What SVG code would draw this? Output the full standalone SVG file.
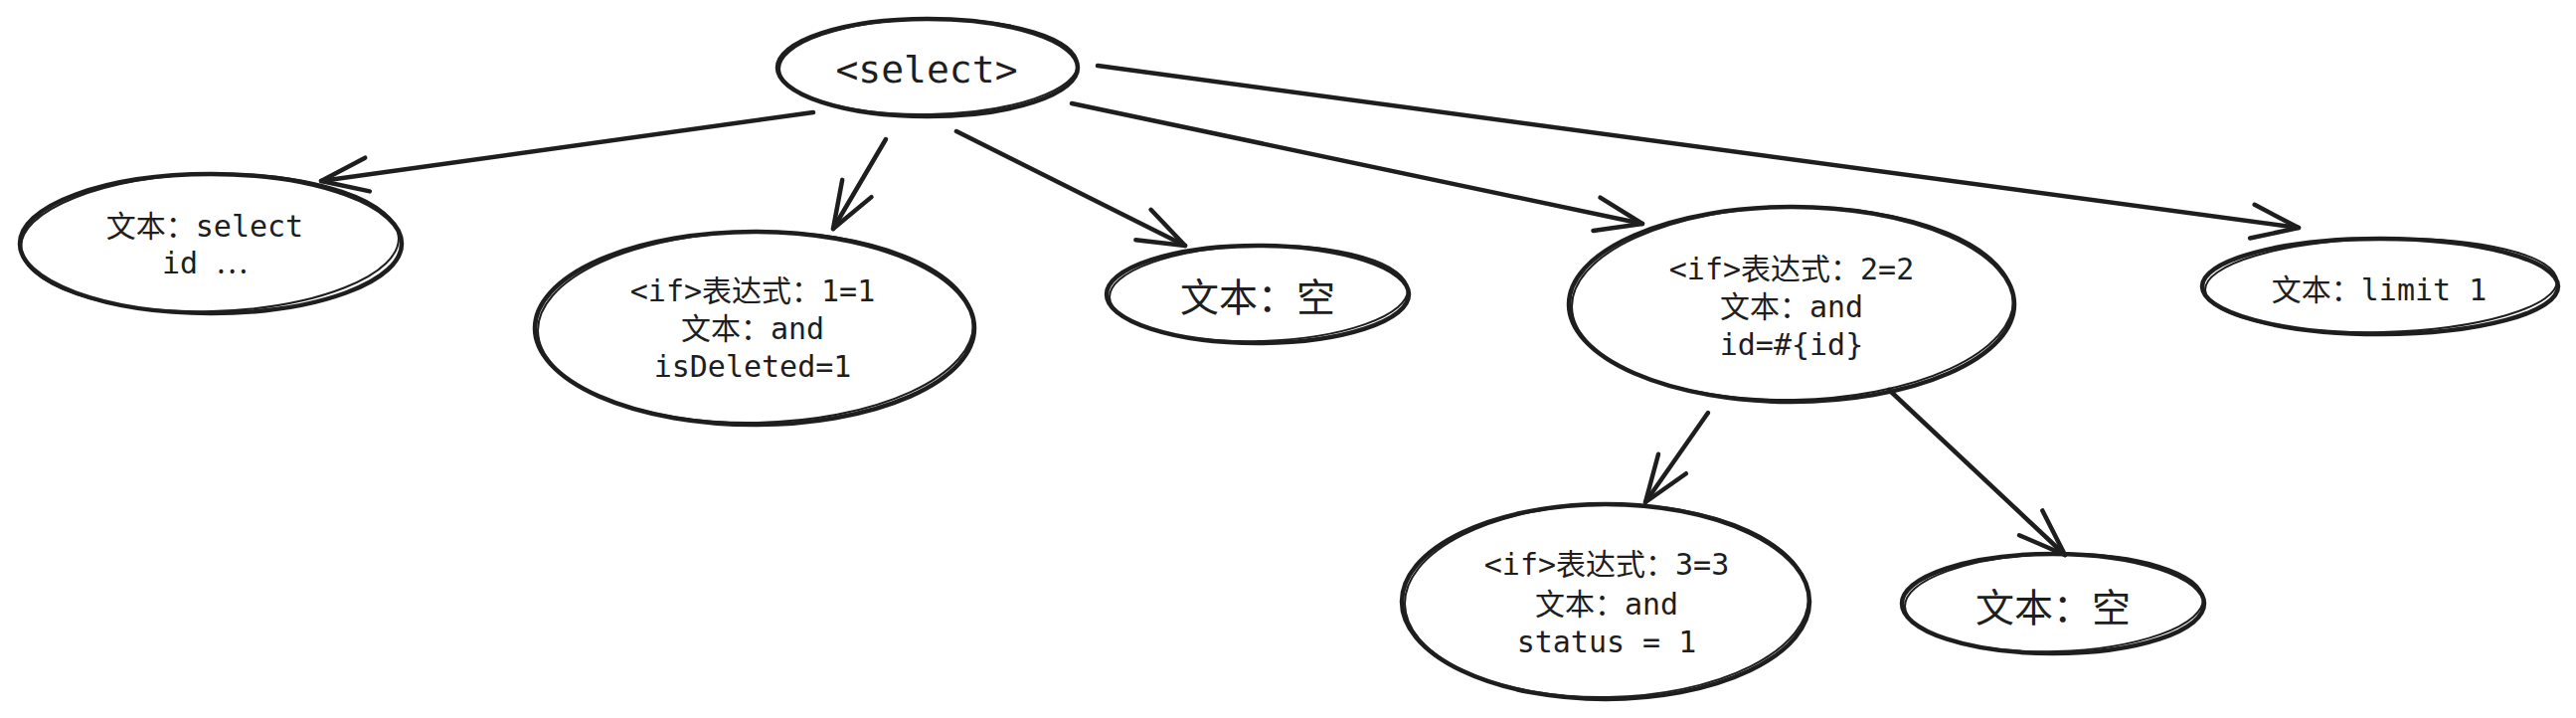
<svg xmlns="http://www.w3.org/2000/svg" width="2591" height="722" viewBox="0 0 2591 722">
<style>
.node{fill:none;stroke:#1e1e1e;stroke-width:4.5}
.node2{fill:none;stroke:#1e1e1e;stroke-width:2}
.t{font-family:"DejaVu Sans Mono","Noto Sans CJK SC",monospace;font-size:30px;fill:#1e1e1e;text-anchor:middle}
.big{font-size:39px}
.cjk{font-family:"Noto Sans CJK SC",sans-serif}
.conn{fill:none;stroke:#1e1e1e;stroke-width:4.5;stroke-linecap:round;marker-end:url(#ah)}
</style>
<defs>
<marker id="ah" markerUnits="userSpaceOnUse" markerWidth="60" markerHeight="40" viewBox="-55 -20 60 40" refX="0" refY="0" orient="auto" overflow="visible">
<path d="M-47,-17 L0,0 L-47,17" fill="none" stroke="#1e1e1e" stroke-width="4.5" stroke-linecap="round" stroke-linejoin="round"/>
</marker>
</defs>
<rect width="2591" height="722" fill="#ffffff"/>
<g id="connectors">
<path class="conn" d="M818,113 L323,182"/>
<path class="conn" d="M891,140 L838,230"/>
<path class="conn" d="M962,132 L1192,247"/>
<path class="conn" d="M1078,104 L1652,225"/>
<path class="conn" d="M1104,66 L2312,229"/>
<path class="conn" d="M1718,415 L1655,505"/>
<path class="conn" d="M1900,392 L2077,558"/>
</g>
<g id="n-select">
<ellipse class="node" cx="933" cy="68" rx="151" ry="49"/>
<ellipse class="node2" cx="934" cy="67" rx="150" ry="48" transform="rotate(-1 934 67)"/>
<text class="t" x="932" y="83" style="font-size:38px">&lt;select&gt;</text>
</g>
<g id="n-selectid">
<ellipse class="node" cx="212" cy="245" rx="192" ry="70"/>
<ellipse class="node2" cx="211" cy="244" rx="190" ry="69" transform="rotate(-1.5 211 244)"/>
<text class="t" x="206" y="238">文本：select</text>
<text class="t" x="206" y="275">id <tspan class="cjk">…</tspan></text>
</g>
<g id="n-if1">
<ellipse class="node" cx="759" cy="330" rx="221" ry="97"/>
<ellipse class="node2" cx="760" cy="329" rx="219" ry="96" transform="rotate(-1 760 329)"/>
<text class="t" x="757" y="303">&lt;if&gt;表达式：1=1</text>
<text class="t" x="757" y="341">文本：and</text>
<text class="t" x="757" y="379">isDeleted=1</text>
</g>
<g id="n-empty1">
<ellipse class="node" cx="1265" cy="296" rx="152" ry="49"/>
<ellipse class="node2" cx="1266" cy="295" rx="150" ry="48" transform="rotate(-1.5 1266 295)"/>
<text class="t big" x="1265" y="313">文本：空</text>
</g>
<g id="n-if2">
<ellipse class="node" cx="1802" cy="306" rx="224" ry="98"/>
<ellipse class="node2" cx="1803" cy="305" rx="222" ry="97" transform="rotate(-1 1803 305)"/>
<text class="t" x="1802" y="281">&lt;if&gt;表达式：2=2</text>
<text class="t" x="1802" y="319">文本：and</text>
<text class="t" x="1802" y="357">id=#{id}</text>
</g>
<g id="n-limit">
<ellipse class="node" cx="2394" cy="288" rx="179" ry="48"/>
<ellipse class="node2" cx="2395" cy="287" rx="177" ry="47" transform="rotate(-1.5 2395 287)"/>
<text class="t" x="2393" y="302">文本：limit 1</text>
</g>
<g id="n-if3">
<ellipse class="node" cx="1615" cy="605" rx="205" ry="98"/>
<ellipse class="node2" cx="1616" cy="604" rx="203" ry="97" transform="rotate(-1 1616 604)"/>
<text class="t" x="1616" y="578">&lt;if&gt;表达式：3=3</text>
<text class="t" x="1616" y="618">文本：and</text>
<text class="t" x="1616" y="656">status = 1</text>
</g>
<g id="n-empty2">
<ellipse class="node" cx="2065" cy="607" rx="152" ry="50"/>
<ellipse class="node2" cx="2066" cy="606" rx="150" ry="49" transform="rotate(-1.5 2066 606)"/>
<text class="t big" x="2065" y="625">文本：空</text>
</g>
</svg>
